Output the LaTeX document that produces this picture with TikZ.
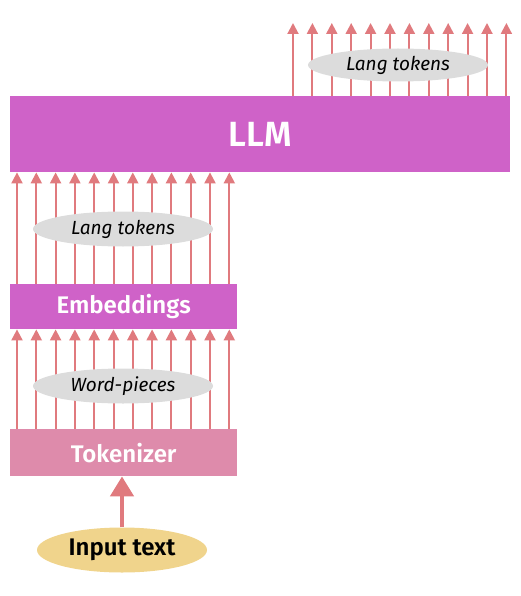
\documentclass[tikz,border=0pt]{standalone}
\usepackage{fontspec}
\setmainfont{Fira Sans}[BoldFont={Fira Sans SemiBold}]
\usetikzlibrary{arrows.meta,shapes.geometric}
\definecolor{boxpink}{HTML}{CF62C8}
\definecolor{tokpink}{HTML}{DE8BAB}
\definecolor{arrred}{HTML}{E07A7E}
\definecolor{ellgray}{HTML}{DCDCDC}
\definecolor{inyellow}{HTML}{F0D48C}
\tikzset{
  box/.style={draw=none, fill=boxpink, text=white, font=\bfseries, inner sep=0pt, anchor=north west},
  lbl/.style={ellipse, fill=ellgray, draw=none, inner sep=0pt, font=\itshape\fontsize{19}{21}\selectfont, text=black},
  arr/.style={draw=arrred, line width=2pt, -{Triangle[width=11pt,length=11pt]}},
  bigarr/.style={draw=arrred, line width=4.5pt, -{Triangle[width=23pt,length=20pt]}},
}
\begin{document}
\begin{tikzpicture}[x=1pt,y=-1pt]
\useasboundingbox (0,0) rectangle (521,596);
% boxes
\node[box, minimum width=500pt, minimum height=76pt, font=\bfseries\fontsize{35}{38}\selectfont] (llm) at (10,96) {LLM};
\node[box, minimum width=227pt, minimum height=45pt, font=\bfseries\fontsize{24}{27}\selectfont] (emb) at (10,284) {Embeddings};
\node[box, fill=tokpink, minimum width=227pt, minimum height=47pt, font=\bfseries\fontsize{24}{27}\selectfont] (tok) at (10,429) {Tokenizer};
\node[ellipse, fill=inyellow, minimum width=170pt, minimum height=45pt, inner sep=0pt, font=\bfseries\fontsize{24}{27}\selectfont, text=black] (inp) at (122,550) {Input text};
% coordinates
\coordinate (toptip) at (0,23);
% arrows tokenizer -> embeddings
\foreach \i in {0,...,11}{
  \path (tok.north west) ++(7+19.3*\i,0) coordinate (ta\i);
  \draw[arr] (ta\i) -- (ta\i |- emb.south);
}
\node[lbl, minimum width=180pt, minimum height=35pt] (wp) at (123,386) {Word-pieces};
% arrows embeddings -> llm
\foreach \i in {0,...,11}{
  \path (emb.north west) ++(7+19.3*\i,0) coordinate (ea\i);
  \draw[arr] (ea\i) -- (ea\i |- llm.south);
}
\node[lbl, minimum width=180pt, minimum height=35pt] (lt1) at (123,229) {Lang tokens};
% arrows out of llm
\foreach \i in {0,...,11}{
  \path (llm.north west) ++(283+19.4*\i,0) coordinate (la\i);
  \draw[arr] (la\i) -- (la\i |- toptip);
}
\node[lbl, minimum width=180pt, minimum height=33pt] (lt2) at (398,65) {Lang tokens};
% input arrow
\draw[bigarr] (inp.north) -- (inp.north |- tok.south);
\end{tikzpicture}
\end{document}
